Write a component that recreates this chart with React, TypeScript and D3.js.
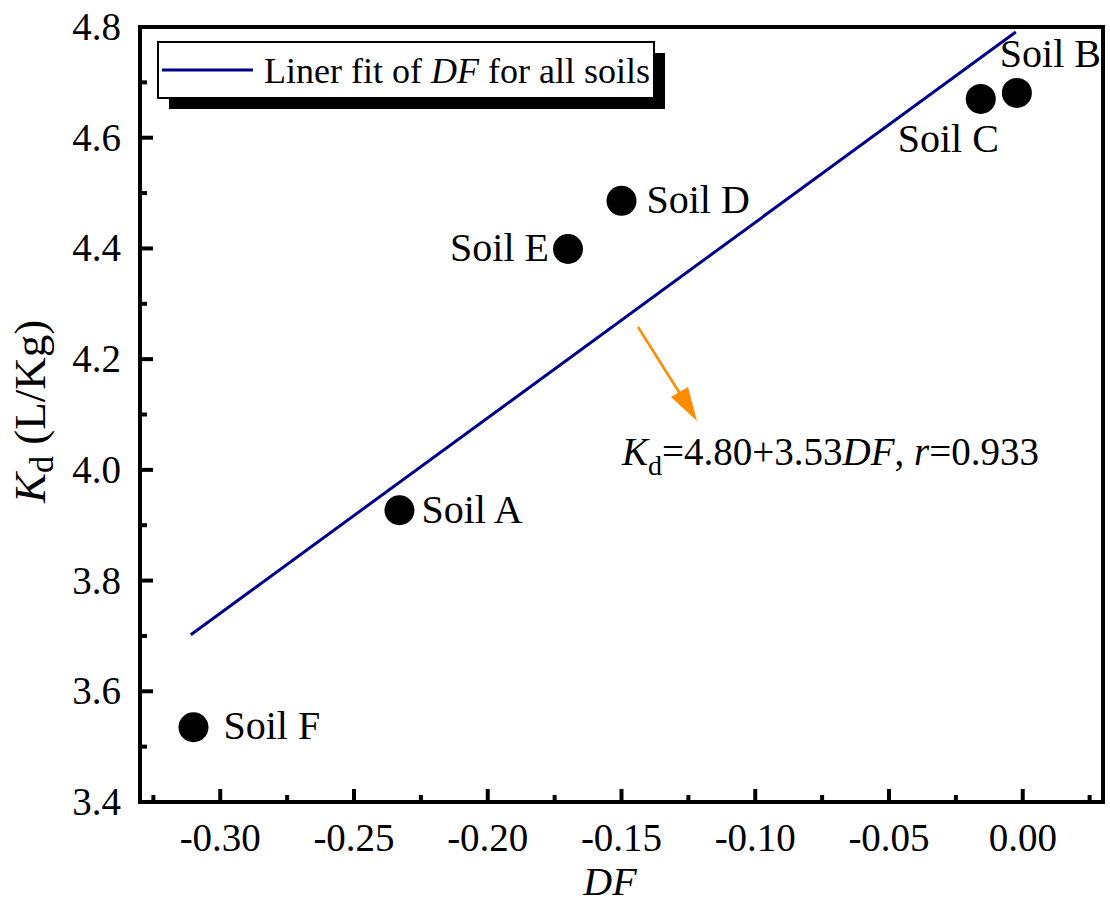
import React from "react";
import * as d3 from "d3";

const soils = ["Soil A", "Soil B", "Soil C", "Soil D", "Soil E", "Soil F"];
const dfValues = [-0.233, -0.0022, -0.0157, -0.15, -0.17, -0.31];
const kdValues = [3.927, 4.681, 4.67, 4.486, 4.399, 3.535];
// label offsets per soil, relative to the point
const labelPos = [
  { dx: 22, dy: 13, anchor: "start" },
  { dx: -17, dy: -26, anchor: "start" },
  { dx: -83, dy: 53, anchor: "start" },
  { dx: 25, dy: 12, anchor: "start" },
  { dx: -19, dy: 12, anchor: "end" },
  { dx: 30, dy: 12, anchor: "start" },
];
const fitX = [-0.311, -0.0026];
const intercept = 4.8;
const slope = 3.53;
const xTicks = [-0.3, -0.25, -0.2, -0.15, -0.1, -0.05, 0.0];
const xMinor = [-0.325, -0.275, -0.225, -0.175, -0.125, -0.075, -0.025, 0.025];
const yTicks = [3.4, 3.6, 3.8, 4.0, 4.2, 4.4, 4.6, 4.8];
const yMinor = [3.5, 3.7, 3.9, 4.1, 4.3, 4.5, 4.7];

const FONT = "Liberation Serif";
const width = 1110;
const height = 914;
const margin = { top: 27, right: 7, bottom: 112, left: 140 };

const x = d3.scaleLinear().domain([-0.33, 0.03]).range([margin.left, width - margin.right]);
const y = d3.scaleLinear().domain([3.4, 4.8]).range([height - margin.bottom, margin.top]);
const X0 = margin.left, X1 = width - margin.right;
const Y0 = height - margin.bottom, Y1 = margin.top;

const fitLine = d3.line<number>()
  .x((d) => x(d))
  .y((d) => y(intercept + slope * d));

const fmtX = (d: number) => d3.format(".2f")(d).replace("−", "-");
const fmtY = (d: number) => d3.format(".1f")(d);

const txt = (size: number, extra = {}) => ({ fontFamily: FONT, fontSize: size, ...extra });

const App = () => (
  <svg width={width} height={height} style={{ position: "absolute", left: 0, top: 0 }}>
    {/* fit line */}
    <path d={fitLine(fitX) || ""} fill="none" stroke="#00008b" strokeWidth={3} />

    {/* points */}
    {soils.map((s, i) => (
      <g key={s}>
        <circle cx={x(dfValues[i])} cy={y(kdValues[i])} r={15} fill="#000" />
        <text
          x={x(dfValues[i]) + labelPos[i].dx}
          y={y(kdValues[i]) + labelPos[i].dy}
          textAnchor={labelPos[i].anchor}
          style={txt(40)}
        >
          {s}
        </text>
      </g>
    ))}

    {/* x axis ticks */}
    {xTicks.map((t) => (
      <g key={"x" + t}>
        <line x1={x(t)} x2={x(t)} y1={Y0} y2={Y0 - 13} stroke="#000" strokeWidth={4} />
        <text x={x(t)} y={Y0 + 49} textAnchor="middle" style={txt(39)}>{fmtX(t)}</text>
      </g>
    ))}
    {xMinor.map((t) => (
      <line key={"xm" + t} x1={x(t)} x2={x(t)} y1={Y0} y2={Y0 - 7} stroke="#000" strokeWidth={4} />
    ))}

    {/* y axis ticks */}
    {yTicks.map((t) => (
      <g key={"y" + t}>
        <line x1={X0} x2={X0 + 13} y1={y(t)} y2={y(t)} stroke="#000" strokeWidth={4} />
        <text x={X0 - 19} y={y(t) + 13} textAnchor="end" style={txt(39)}>{fmtY(t)}</text>
      </g>
    ))}
    {yMinor.map((t) => (
      <line key={"ym" + t} x1={X0} x2={X0 + 7} y1={y(t)} y2={y(t)} stroke="#000" strokeWidth={4} />
    ))}

    {/* frame */}
    <rect x={X0} y={Y1} width={X1 - X0} height={Y0 - Y1} fill="none" stroke="#000" strokeWidth={4} />

    {/* legend with drop shadow */}
    <rect x={169} y={53} width={496} height={56} fill="#000" />
    <rect x={158} y={42} width={496} height={56} fill="#fff" stroke="#000" strokeWidth={2} />
    <line x1={162} x2={253} y1={70} y2={70} stroke="#00008b" strokeWidth={3} />
    <text x={264} y={83} style={txt(36)}>
      Liner fit of <tspan style={{ fontStyle: "italic" }}>DF</tspan> for all soils
    </text>

    {/* arrow + equation */}
    <line x1={638} y1={327} x2={684} y2={400} stroke="#ff8c00" strokeWidth={2.5} />
    <path d="M671,397 L697,421 L688,387 Z" fill="#ff8c00" />
    <text x={622} y={465} style={txt(39)}>
      <tspan style={{ fontStyle: "italic" }}>K</tspan>
      <tspan style={{ fontSize: 28 }} dy={10}>d</tspan>
      <tspan dy={-10}>=4.80+3.53</tspan>
      <tspan style={{ fontStyle: "italic" }}>DF</tspan>
      <tspan>, </tspan>
      <tspan style={{ fontStyle: "italic" }}>r</tspan>
      <tspan>=0.933</tspan>
    </text>

    {/* axis titles */}
    <text x={610} y={895} textAnchor="middle" style={txt(40, { fontStyle: "italic" })}>DF</text>
    <text transform={`translate(45,${(Y0 + Y1) / 2 - 3}) rotate(-90)`} textAnchor="middle" style={txt(45)}>
      <tspan style={{ fontStyle: "italic" }}>K</tspan>
      <tspan style={{ fontSize: 34 }} dy={8}>d</tspan>
      <tspan dy={-8}> (L/Kg)</tspan>
    </text>
  </svg>
);

export default App;
